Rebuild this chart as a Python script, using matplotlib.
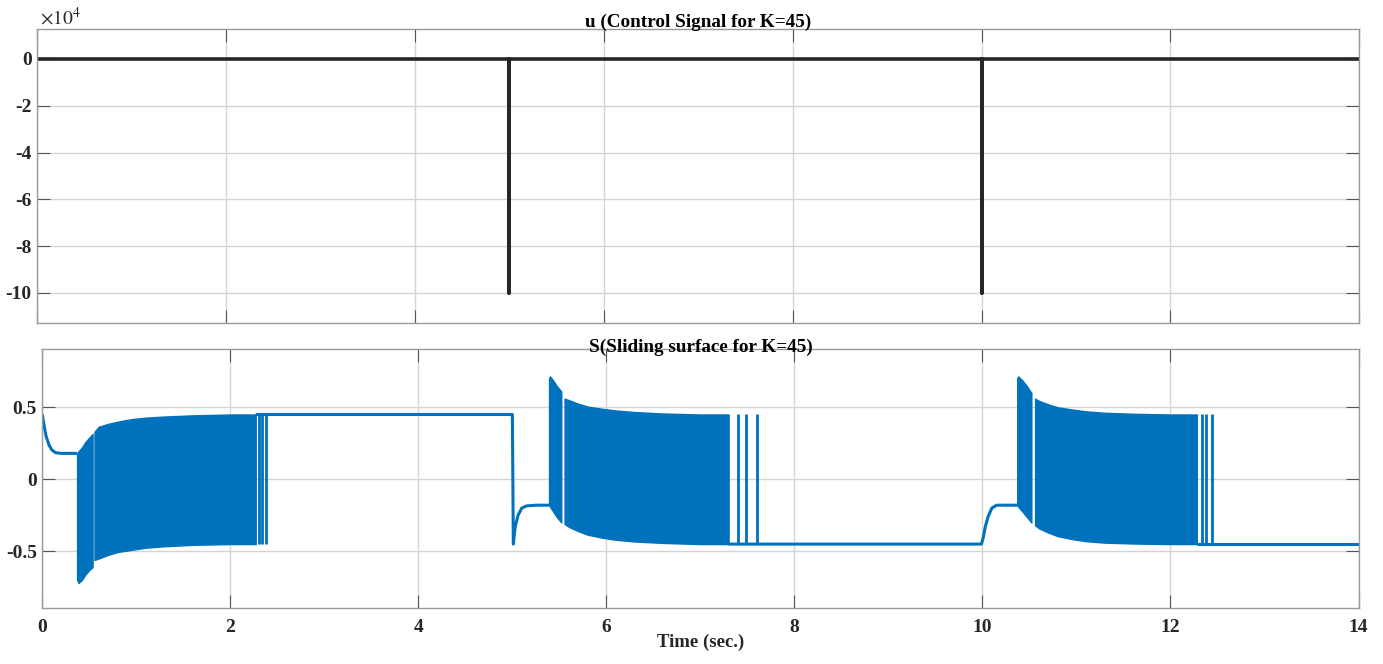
import matplotlib
matplotlib.use('Agg')
import matplotlib.pyplot as plt
from matplotlib.ticker import FuncFormatter

# control signal u (raw units, shown as x10^4)
u_time = [0, 5.0, 5.0, 5.0, 10.0, 10.0, 10.0, 14]
u_value = [0, 0, -1e5, 0, 0, -1e5, 0, 0]

# sliding surface S: plain (non chattering) pieces
s1_t = [0, 0.02, 0.04, 0.07, 0.10, 0.14, 0.20, 0.37]
s1_v = [0.45, 0.37, 0.30, 0.24, 0.205, 0.185, 0.18, 0.18]
s2_t = [2.27, 5.0, 5.01, 5.03, 5.06, 5.10, 5.15, 5.25, 5.39]
s2_v = [0.45, 0.45, -0.45, -0.33, -0.25, -0.20, -0.185, -0.18, -0.18]
s3_t = [7.30, 9.99, 10.01, 10.03, 10.06, 10.10, 10.15, 10.37]
s3_v = [-0.45, -0.45, -0.40, -0.33, -0.26, -0.20, -0.18, -0.18]
s4_t = [12.28, 14]
s4_v = [-0.45, -0.45]

# chattering bands (upper / lower envelope)
b1a_t = [0.37, 0.385, 0.42, 0.46, 0.50, 0.535]
b1a_hi = [0.18, 0.195, 0.22, 0.26, 0.29, 0.315]
b1a_lo = [-0.70, -0.72, -0.70, -0.66, -0.63, -0.61]
b1b_t = [0.555, 0.6, 0.7, 0.8, 0.95, 1.1, 1.3, 1.6, 2.0, 2.27]
b1b_hi = [0.33, 0.365, 0.385, 0.40, 0.418, 0.428, 0.436, 0.444, 0.45, 0.45]
b1b_lo = [-0.56, -0.55, -0.525, -0.505, -0.49, -0.475, -0.465, -0.455, -0.45, -0.45]

b2a_t = [5.39, 5.40, 5.43, 5.47, 5.52]
b2a_hi = [0.70, 0.715, 0.69, 0.65, 0.61]
b2a_lo = [-0.18, -0.19, -0.22, -0.26, -0.30]
b2b_t = [5.555, 5.6, 5.7, 5.8, 5.95, 6.1, 6.3, 6.6, 7.0, 7.30]
b2b_hi = [0.56, 0.55, 0.525, 0.505, 0.49, 0.478, 0.467, 0.457, 0.45, 0.45]
b2b_lo = [-0.31, -0.33, -0.36, -0.385, -0.405, -0.42, -0.432, -0.442, -0.45, -0.45]

b3a_t = [10.37, 10.38, 10.42, 10.47, 10.52]
b3a_hi = [0.70, 0.715, 0.69, 0.65, 0.60]
b3a_lo = [-0.18, -0.19, -0.22, -0.26, -0.30]
b3b_t = [10.56, 10.6, 10.7, 10.8, 10.95, 11.1, 11.3, 11.6, 12.0, 12.28]
b3b_hi = [0.56, 0.545, 0.52, 0.50, 0.485, 0.472, 0.462, 0.455, 0.45, 0.45]
b3b_lo = [-0.32, -0.34, -0.37, -0.395, -0.415, -0.43, -0.44, -0.446, -0.45, -0.45]

# last isolated switching spikes
strays = [2.30, 2.34, 2.38, 7.40, 7.48, 7.60, 12.33, 12.38, 12.44]

blue = '#0072BD'
dark = '#262626'

plt.rcParams['font.family'] = ['Liberation Serif', 'DejaVu Serif']
plt.rcParams['mathtext.fontset'] = 'stix'

fig = plt.figure(figsize=(13.83, 6.64), dpi=100)
ax1 = fig.add_axes([0.02697, 0.5140, 0.9559, 0.4419])
ax2 = fig.add_axes([0.03059, 0.08389, 0.9517, 0.3901])

fmt = FuncFormatter(lambda v, p: '%g' % v)

def style(ax):
    ax.set_xlim(0, 14)
    ax.set_xticks(range(0, 15, 2))
    ax.grid(True, color='#d4d4d4', lw=1.0)
    ax.set_axisbelow(True)
    for s in ax.spines.values():
        s.set_color('#9a9a9a')
        s.set_linewidth(1.0)
    ax.tick_params(direction='in', length=9.5, width=0.8, color='#555555',
                   top=True, right=True, labelsize=14, labelcolor=dark)
    ax.tick_params(axis='x', pad=7.5)
    ax.tick_params(axis='y', pad=4)

# top: u
ax1.plot(u_time, u_value, color=dark, lw=2.6)
ax1.set_ylim(-11.27e4, 1.27e4)
ax1.set_yticks([-1e5, -8e4, -6e4, -4e4, -2e4, 0])
ax1.yaxis.set_major_formatter(FuncFormatter(lambda v, p: '%g' % (v / 1e4)))
style(ax1)
ax1.tick_params(labelbottom=False)
for lab in ax1.get_yticklabels():
    lab.set_fontweight('bold')
ax1.annotate('u (Control Signal for K=45)', xy=(0.5, 1), xycoords='axes fraction',
             xytext=(0, 2.5), textcoords='offset pixels', ha='center', va='baseline',
             fontsize=13.8, fontweight='bold', color='black')
fig.text(40 / 1383, 1 - 25 / 664, r'$\times10^{4}$', fontsize=14, color=dark,
         ha='left', va='baseline')

# bottom: S
for t, v in [(s1_t, s1_v), (s2_t, s2_v), (s3_t, s3_v), (s4_t, s4_v)]:
    ax2.plot(t, v, color=blue, lw=2.2, solid_capstyle='butt')
for t, hi, lo in [(b1a_t, b1a_hi, b1a_lo), (b1b_t, b1b_hi, b1b_lo),
                  (b2a_t, b2a_hi, b2a_lo), (b2b_t, b2b_hi, b2b_lo),
                  (b3a_t, b3a_hi, b3a_lo), (b3b_t, b3b_hi, b3b_lo)]:
    ax2.fill_between(t, lo, hi, color=blue, lw=1.0, edgecolor=blue)
ax2.vlines(strays, -0.45, 0.45, color=blue, lw=2.0)
ax2.set_ylim(-0.896, 0.903)
ax2.set_yticks([-0.5, 0, 0.5])
ax2.yaxis.set_major_formatter(fmt)
ax2.xaxis.set_major_formatter(fmt)
style(ax2)
for lab in ax2.get_xticklabels() + ax2.get_yticklabels():
    lab.set_fontweight('bold')
ax2.annotate('S(Sliding surface for K=45)', xy=(0.5, 1), xycoords='axes fraction',
             xytext=(0, -3), textcoords='offset pixels', ha='center', va='baseline',
             fontsize=13.8, fontweight='bold', color='black')
ax2.annotate('Time (sec.)', xy=(0.5, 0), xycoords='axes fraction',
             xytext=(0, -39), textcoords='offset pixels', ha='center', va='baseline',
             fontsize=13.5, fontweight='bold', color=dark)

fig.savefig('out.png', dpi=100)
